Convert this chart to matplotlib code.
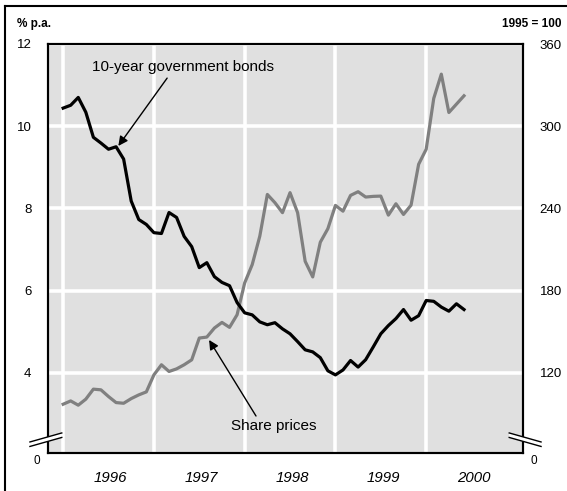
import matplotlib.pyplot as plt
import numpy as np
from matplotlib.lines import Line2D
from matplotlib.patches import Polygon

plt.rcParams['font.family'] = ['Liberation Sans', 'DejaVu Sans']

# monthly observations, Jan 1996 .. Jun 2000
bond_yield = [10.44, 10.51, 10.70, 10.34, 9.73, 9.59, 9.44, 9.50, 9.20, 8.18, 7.73, 7.61,
              7.41, 7.39, 7.90, 7.78, 7.32, 7.07, 6.56, 6.68, 6.34, 6.20, 6.12, 5.71,
              5.46, 5.41, 5.24, 5.17, 5.22, 5.07, 4.95, 4.76, 4.56, 4.51, 4.37, 4.05,
              3.95, 4.07, 4.30, 4.14, 4.32, 4.63, 4.95, 5.15, 5.32, 5.54, 5.28, 5.39,
              5.76, 5.74, 5.60, 5.50, 5.68, 5.54]
share_prices = [97.1, 99.5, 96.4, 100.8, 108.1, 107.6, 102.7, 98.3, 97.8, 101.2, 103.9, 106.1,
                118.5, 125.9, 121.0, 122.9, 125.9, 129.5, 145.4, 146.1, 152.7, 156.8, 153.2, 162.4,
                185.6, 199.0, 219.7, 250.2, 244.2, 236.9, 251.5, 236.9, 201.4, 190.0, 215.3, 225.2,
                242.2, 238.0, 249.5, 252.2, 248.3, 248.8, 249.0, 235.1, 243.4, 235.6, 242.4, 272.2,
                283.2, 320.3, 338.0, 310.0, 316.1, 322.2]
months = np.arange(len(bond_yield))
years = ['1996', '1997', '1998', '1999', '2000']
year_starts = [0, 12, 24, 36, 48]
left_ticks = [4, 6, 8, 10, 12]
right_ticks = [120, 180, 240, 300, 360]

fig = plt.figure(figsize=(5.67, 4.91), dpi=100)
W, H = 567, 491
ax = fig.add_axes([48 / W, 1 - 453 / H, 475 / W, 409 / H])
ax2 = ax.twinx()
ax.set_zorder(ax2.get_zorder() + 1)
ax.patch.set_visible(False)
ax2.patch.set_visible(True)
ax2.patch.set_facecolor('#e0e0e0')

ax.set_xlim(-2.0, 60.8)
ax.set_ylim(2.05, 12)
ax2.set_ylim(61.5, 360)

# white grid on the back axes
ax2.set_axisbelow(True)
ax2.set_yticks(right_ticks)
ax2.grid(axis='y', color='white', lw=2.6)
for xs in year_starts:
    ax2.axvline(xs, color='white', lw=2.6, zorder=1)

ax2.plot(months, share_prices, color='#808080', lw=2.3, zorder=3)
ax.plot(months, bond_yield, color='black', lw=2.3, zorder=3)

ax.set_yticks(left_ticks)
ax.set_yticklabels([str(t) for t in left_ticks], fontsize=9.5)
ax2.set_yticklabels([str(t) for t in right_ticks], fontsize=9.5)
ax.tick_params(axis='y', length=0, pad=12)
ax2.tick_params(axis='y', length=0, pad=12)

ax.set_xticks([s + 6.3 for s in year_starts])
ax.set_xticklabels(years, fontsize=10.8, style='italic')
ax.tick_params(axis='x', length=0, pad=13)

for a in (ax, ax2):
    for sp in a.spines.values():
        sp.set_linewidth(1.5)
        sp.set_color('black')

# zero labels and axis breaks
ax.text(-0.016, -0.004, '0', transform=ax.transAxes, ha='right', va='top', fontsize=8.5)
ax.text(1.016, -0.004, '0', transform=ax.transAxes, ha='left', va='top', fontsize=8.5)
for side in (0, 1):
    if side == 0:
        xa, xb = -0.038, 0.029
        ya, yb = 0.016, 0.038
    else:
        xa, xb = 0.971, 1.038
        ya, yb = 0.038, 0.016
    gap = 0.011
    poly = Polygon([(xa, ya), (xb, yb), (xb, yb + gap), (xa, ya + gap)], closed=True,
                   transform=ax.transAxes, facecolor='white', edgecolor='none',
                   clip_on=False, zorder=10)
    ax.add_patch(poly)
    for off in (0, gap):
        ax.add_line(Line2D([xa, xb], [ya + off, yb + off], transform=ax.transAxes,
                           color='black', lw=1.0, clip_on=False, zorder=11))

# annotations
ax.text(15.9, 11.44, '10-year government bonds', ha='center', va='center', fontsize=11)
ax.annotate('', xy=(7.3, 9.52), xytext=(13.75, 11.17),
            arrowprops=dict(arrowstyle='-|>', color='black', lw=1.0, mutation_scale=14,
                            shrinkA=0, shrinkB=0))
ax.text(27.9, 2.71, 'Share prices', ha='center', va='center', fontsize=11)
ax.annotate('', xy=(19.3, 4.80), xytext=(25.5, 2.95),
            arrowprops=dict(arrowstyle='-|>', color='black', lw=1.0, mutation_scale=14,
                            shrinkA=0, shrinkB=0))

# headers and outer frame
fig.text(17 / W, 1 - 24 / H, '% p.a.', fontsize=8.5, fontweight='bold', va='center')
fig.text(561 / W, 1 - 24 / H, '1995 = 100', fontsize=8.5, fontweight='bold', va='center', ha='right')
fig.add_artist(Line2D([5 / W, 5 / W], [0, 1 - 6 / H], color='black', lw=1.5))
fig.add_artist(Line2D([5 / W, 1], [1 - 6 / H, 1 - 6 / H], color='black', lw=1.5))

fig.savefig('out.png', dpi=100)
